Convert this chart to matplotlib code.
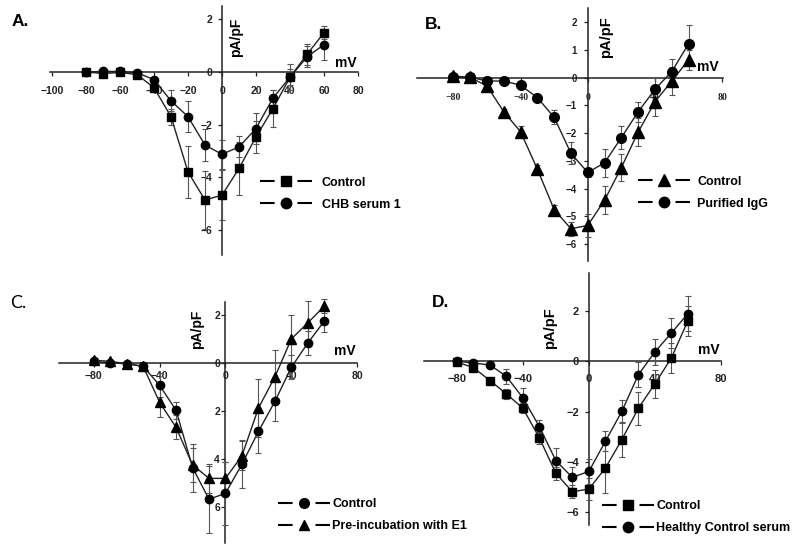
import numpy as np
import matplotlib
matplotlib.use('Agg')
import matplotlib.pyplot as plt
from matplotlib.lines import Line2D

plt.rcParams['font.family'] = ['Liberation Sans', 'DejaVu Sans']
plt.rcParams['font.weight'] = 'bold'

# --- dati: potenziale (mV) e densita' di corrente (pA/pF) ---
mv = [-80, -70, -60, -50, -40, -30, -20, -10, 0, 10, 20, 30, 40, 50, 60]

a_ctrl = [0.0, -0.06, -0.02, -0.1, -0.6, -1.7, -3.8, -4.87, -4.68, -3.67, -2.47, -1.39, -0.2, 0.67, 1.49]
a_ctrl_err = [0.05, 0.05, 0.05, 0.05, 0.1, 0.3, 1.0, 1.1, 0.95, 1.0, 0.6, 0.7, 0.5, 0.4, 0.25]
a_chb = [0.0, 0.02, 0.02, -0.03, -0.29, -1.1, -1.7, -2.78, -3.13, -2.85, -2.15, -0.99, -0.2, 0.57, 1.04]
a_chb_err = [0.03, 0.03, 0.03, 0.03, 0.1, 0.4, 0.6, 0.6, 0.55, 0.4, 0.6, 0.3, 0.3, 0.4, 0.6]

b_ctrl = [0.06, 0.01, -0.3, -1.23, -1.95, -3.3, -4.76, -5.45, -5.33, -4.42, -3.24, -1.96, -0.87, -0.12, 0.64]
b_ctrl_err = [0.05, 0.05, 0.1, 0.1, 0.2, 0.15, 0.15, 0.25, 0.4, 0.5, 0.5, 0.5, 0.5, 0.5, 0.35]
b_igg = [0.03, 0.02, -0.12, -0.12, -0.27, -0.72, -1.43, -2.73, -3.42, -3.07, -2.16, -1.23, -0.42, 0.22, 1.22]
b_igg_err = [0.03, 0.03, 0.05, 0.05, 0.05, 0.05, 0.25, 0.4, 0.15, 0.5, 0.4, 0.35, 0.4, 0.45, 0.7]

c_ctrl = [0.07, 0.0, -0.03, -0.14, -0.93, -1.97, -4.35, -5.67, -5.42, -4.21, -2.85, -1.6, -0.18, 0.83, 1.74]
c_ctrl_err = [0.05, 0.05, 0.05, 0.15, 0.5, 0.35, 1.0, 1.4, 1.3, 1.0, 0.9, 0.8, 0.5, 0.5, 0.45]
c_pre = [0.11, 0.07, -0.03, -0.14, -1.64, -2.68, -4.24, -4.8, -4.8, -3.86, -1.88, -0.58, 1.0, 1.67, 2.36]
c_pre_err = [0.05, 0.05, 0.05, 0.2, 0.6, 0.5, 0.7, 0.6, 0.7, 0.6, 1.2, 1.1, 1.0, 0.9, 0.3]

d_ctrl = [-0.04, -0.26, -0.77, -1.3, -1.87, -3.05, -4.45, -5.18, -5.07, -4.24, -3.11, -1.87, -0.9, 0.12, 1.59]
d_ctrl_err = [0.03, 0.05, 0.05, 0.2, 0.2, 0.25, 0.25, 0.25, 0.45, 1.0, 0.7, 0.65, 0.55, 0.6, 0.6]
d_hcs = [0.0, -0.08, -0.15, -0.61, -1.46, -2.6, -3.95, -4.61, -4.37, -3.18, -1.99, -0.54, 0.36, 1.11, 1.88]
d_hcs_err = [0.03, 0.05, 0.05, 0.3, 0.4, 0.25, 0.5, 0.4, 0.5, 0.4, 0.45, 0.5, 0.5, 0.6, 0.7]

a_xticks = [-100, -80, -60, -40, -20, 0, 20, 40, 60, 80]
a_yticks = [-6, -4, -2, 0, 2]
b_xticks = [-80, -40, 0, 40, 80]
b_yticks = [-6, -5, -4, -3, -2, -1, 0, 1, 2]
c_xticks = [-80, -40, 0, 40, 80]
c_yticks = [-6, -4, -2, 0, 2]
c_ylabels = ['6', '4', '2', '0', '2']
d_xticks = [-80, -40, 0, 40, 80]
d_yticks = [-6, -4, -2, 0, 2]

fig = plt.figure(figsize=(8, 5.51), dpi=100)


def setup(ax, xlim, ylim, xticks, yticks, xpad, ypad, size=7.5):
    ax.set_xlim(xlim)
    ax.set_ylim(ylim)
    ax.patch.set_alpha(0)
    for s in ['top', 'right']:
        ax.spines[s].set_visible(False)
    for s in ['left', 'bottom']:
        ax.spines[s].set_position(('data', 0))
        ax.spines[s].set_linewidth(1.1)
        ax.spines[s].set_color('#222222')
    ax.set_xticks(xticks)
    ax.set_yticks(yticks)
    ax.tick_params(direction='out', length=3, width=0.9, labelsize=size, colors='#222222')
    ax.tick_params(axis='x', pad=xpad)
    ax.tick_params(axis='y', pad=ypad)


def serie(ax, y, err, marker, ms):
    ax.errorbar(mv, y, yerr=err, fmt='none', ecolor='#555555', elinewidth=0.8,
                capsize=2, capthick=0.8, zorder=3, clip_on=False)
    ax.plot(mv, y, color='#222222', lw=1.0, marker=marker, ms=ms, mfc='k', mec='k',
            zorder=4, clip_on=False)


def legenda(ax, labels, markers, ms, pos, pad):
    handles = [Line2D([], [], color='k', lw=1.5, dashes=(7, 11), marker=m, ms=s, mfc='k', mec='k')
               for m, s in zip(markers, ms)]
    ax.legend(handles, labels, loc='upper left', bbox_to_anchor=pos, bbox_transform=fig.transFigure,
              frameon=False, borderpad=0, borderaxespad=0, handlelength=4.15, handletextpad=pad,
              labelspacing=0.8, numpoints=1, prop={'family': 'Liberation Sans', 'weight': 'bold', 'size': 9})


# --- Pannello A ---
axA = fig.add_axes([0.0629, 0.5376, 0.3846, 0.4512])
setup(axA, (-101, 80), (-6.95, 2.5), a_xticks, a_yticks, 7, 4)
serie(axA, a_ctrl, a_ctrl_err, 's', 5.5)
serie(axA, a_chb, a_chb_err, 'o', 6)
axA.text(4, 1.33, 'pA/pF', rotation=90, ha='left', va='center', fontsize=10)
axA.text(73, 0.08, 'mV', ha='center', va='bottom', fontsize=10)
legenda(axA, ['Control', 'CHB serum 1'], ['s', 'o'], [7, 7.5], (0.325, 0.679), 0.8)
fig.text(0.015, 0.975, 'A.', fontsize=12.5, ha='left', va='top')

# --- Pannello B ---
axB = fig.add_axes([0.521, 0.527, 0.3825, 0.4577])
setup(axB, (-101.8, 80.4), (-6.6, 2.5), b_xticks, b_yticks, 8, 5, size=7)
for lab in axB.get_xticklabels():
    lab.set_family('Liberation Serif')
serie(axB, b_ctrl, b_ctrl_err, '^', 8)
serie(axB, b_igg, b_igg_err, 'o', 7)
axB.text(7, 1.47, 'pA/pF', rotation=90, ha='left', va='center', fontsize=10.5)
axB.text(71.4, 0.12, 'mV', ha='center', va='bottom', fontsize=10)
legenda(axB, ['Control', 'Purified IgG'], ['^', 'o'], [8, 7.5], (0.7975, 0.681), 0.6)
fig.text(0.531, 0.97, 'B.', fontsize=12.5, ha='left', va='top')

# --- Pannello C ---
axC = fig.add_axes([0.074, 0.014, 0.3725, 0.4385])
setup(axC, (-101, 80), (-7.5, 2.55), c_xticks, c_yticks, 3, 1)
axC.set_yticklabels(c_ylabels)
serie(axC, c_ctrl, c_ctrl_err, 'o', 6)
serie(axC, c_pre, c_pre_err, '^', 6.5)
axC.text(-13, 1.42, 'pA/pF', rotation=90, ha='right', va='center', fontsize=10)
axC.text(72.7, 0.2, 'mV', ha='center', va='bottom', fontsize=10)
legenda(axC, ['Control', 'Pre-incubation with E1'], ['o', '^'], [7, 7.5], (0.3475, 0.096), 0.2)
fig.text(0.013, 0.465, 'C.', fontsize=13, ha='left', va='top', family='Lato', weight='normal')

# --- Pannello D ---
axD = fig.add_axes([0.53, 0.047, 0.371, 0.457])
setup(axD, (-100, 80), (-6.5, 3.48), d_xticks, d_yticks, 6, 4, size=8)
serie(axD, d_ctrl, d_ctrl_err, 's', 5.5)
serie(axD, d_hcs, d_hcs_err, 'o', 6)
axD.text(-19, 1.31, 'pA/pF', rotation=90, ha='right', va='center', fontsize=10.5)
axD.text(72.9, 0.15, 'mV', ha='center', va='bottom', fontsize=10)
legenda(axD, ['Control', 'Healthy Control serum'], ['s', 'o'], [7, 7.5], (0.7525, 0.092), 0.2)
fig.text(0.54, 0.465, 'D.', fontsize=12.5, ha='left', va='top')

fig.savefig('out.png', dpi=100)
